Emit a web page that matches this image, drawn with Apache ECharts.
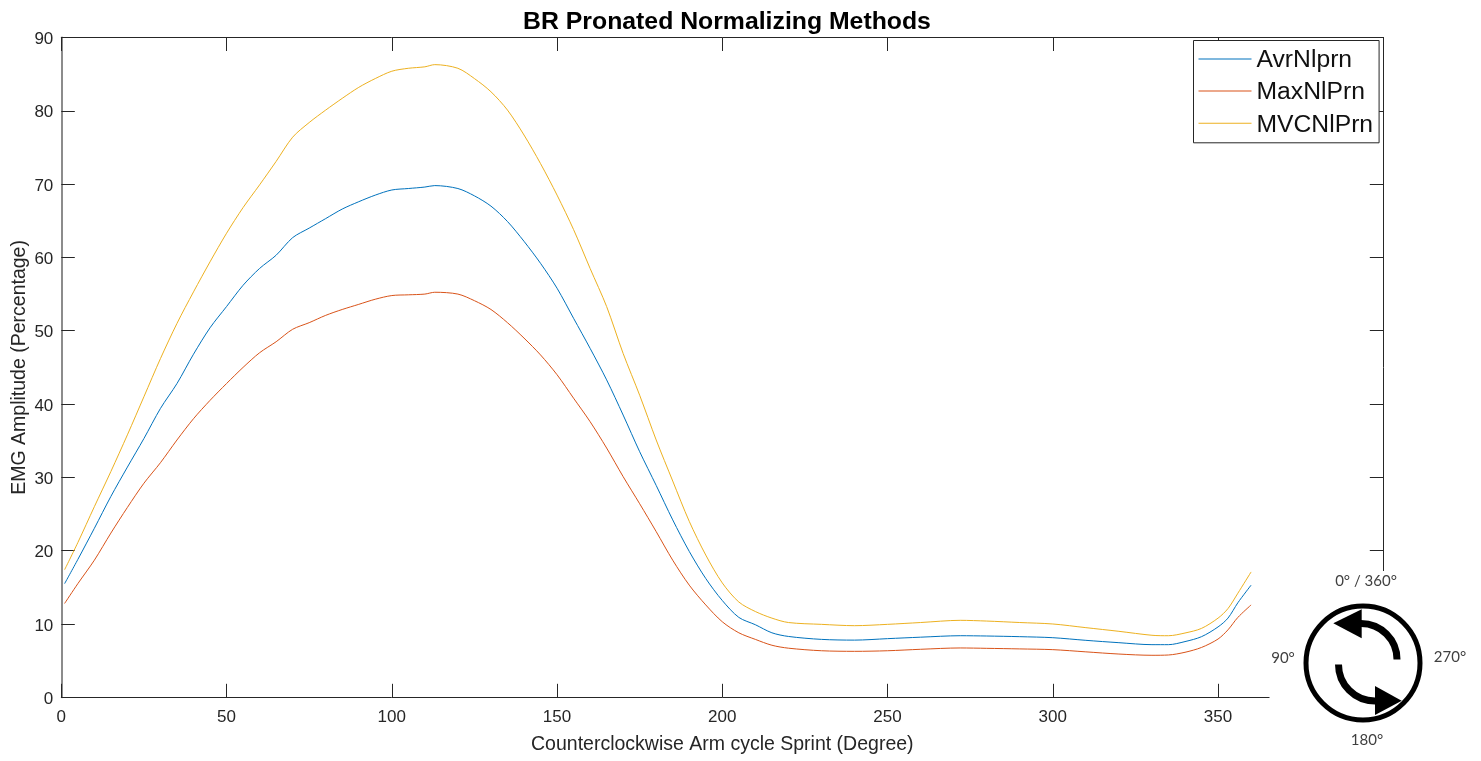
<!DOCTYPE html>
<html><head><meta charset="utf-8">
<style>html,body{margin:0;padding:0;background:#fff}#c{width:1481px;height:761px}</style>
<script src="https://cdn.jsdelivr.net/npm/echarts@6/dist/echarts.min.js"></script>
</head><body><div id="c"></div>
<script>
const titleText = 'BR Pronated Normalizing Methods';
const xName = 'Counterclockwise Arm cycle Sprint (Degree)';
const yName = 'EMG Amplitude (Percentage)';
const seriesNames = ['AvrNlprn','MaxNlPrn','MVCNlPrn'];
const seriesColors = ['#0072BD','#D95319','#EDB120'];
const degrees = [1,5,10,15,20,25,30,35,40,45,50,55,60,65,70,75,80,85,90,95,100,105,110,113,120,125,130,135,140,145,150,155,160,165,170,175,180,185,190,195,200,205,210,215,220,230,240,250,260,272,280,290,300,310,320,330,335,340,345,350,353,356,360];
const avrNlprn = [15.5,18.8,23.05,27.4,31.4,35.3,39.4,42.8,46.8,50.4,53.3,56.2,58.5,60.3,62.7,64.0,65.3,66.6,67.6,68.5,69.2,69.4,69.6,69.8,69.4,68.4,67.0,64.9,62.2,59.2,55.8,51.7,47.6,43.3,38.5,33.5,28.9,24.2,19.9,16.2,13.2,10.9,9.9,8.8,8.3,7.9,7.8,8.0,8.2,8.4,8.36,8.27,8.13,7.77,7.45,7.18,7.18,7.6,8.27,9.6,10.8,12.9,15.3];
const maxNlPrn = [12.8,15.5,18.7,22.4,25.9,29.2,32.0,35.1,38.0,40.5,42.8,45.0,47.0,48.5,50.2,51.1,52.1,52.9,53.6,54.3,54.8,54.9,55.0,55.25,55.0,54.1,52.9,51.1,49.0,46.7,44.0,40.8,37.6,34.0,30.1,26.4,22.6,18.7,15.3,12.6,10.3,8.8,7.9,7.1,6.7,6.35,6.27,6.35,6.55,6.73,6.68,6.6,6.5,6.2,5.9,5.73,5.77,6.14,6.8,7.95,9.2,10.9,12.6];
const mvcNlPrn = [17.4,21.1,26.0,30.8,35.8,41.0,46.2,51.0,55.3,59.4,63.3,66.8,69.9,73.1,76.4,78.4,80.1,81.7,83.2,84.4,85.4,85.8,86.0,86.3,85.8,84.4,82.6,80.1,76.7,72.8,68.5,63.8,58.5,53.3,46.9,41.2,35.1,29.5,24.0,19.4,15.6,13.0,11.7,10.8,10.2,9.95,9.77,9.95,10.2,10.5,10.4,10.2,10.0,9.5,9.0,8.46,8.4,8.77,9.4,10.8,12.1,14.2,17.1];
const xMax = 400, xStep = 50, yMax = 90, yStep = 10;

const valuesBySeries = [avrNlprn, maxNlPrn, mvcNlPrn];
const ink = '#262626';
const font = '"Liberation Sans", Arial, sans-serif';
const iconFont = 'Lato, "Open Sans", sans-serif';
const iconInk = '#404040';
const chart = echarts.init(document.getElementById('c'), null, {renderer:'canvas'});

function tickAxis(extra){
  return Object.assign({
    type:'value', min:0, axisLine:{show:true,onZero:false,lineStyle:{color:ink,width:1}},
    axisTick:{show:true,inside:true,length:13.5,lineStyle:{color:ink,width:1}},
    splitLine:{show:false}, axisLabel:{show:false}
  }, extra);
}
function iconText(text,x,y){
  return {type:'text',z:101,style:{text,x,y,fill:iconInk,font:'15px '+iconFont,textAlign:'center',textVerticalAlign:'middle'}};
}

chart.setOption({
  animation:false,
  backgroundColor:'#fff',
  title:{text:titleText,left:722,top:5,textAlign:'center',textStyle:{fontFamily:font,fontSize:24.8,fontWeight:'bold',color:'#000'}},
  grid:{left:61.3,right:97.7,top:37.5,bottom:63.7,containLabel:false,outerBoundsMode:'none'},
  legend:{
    show:true,orient:'vertical',left:1193.5,top:40.5,align:'left',
    backgroundColor:'#fff',borderColor:ink,borderWidth:1,borderRadius:0,
    padding:[7.4,6,5.5,5],itemWidth:53,itemHeight:14,itemGap:7.2,
    formatter:n=>`{t|${n}}`,
    textStyle:{rich:{t:{fontFamily:font,fontSize:24.7,color:'#111',padding:[3,0,0,0]}}},
    data:seriesNames.map(n=>({name:n,icon:'path://M0 0H53V1H0Z'}))
  },
  xAxis:[
    tickAxis({position:'bottom',max:xMax,interval:xStep,name:xName,nameLocation:'middle',nameGap:37,
      nameTextStyle:{fontFamily:font,fontSize:19.5,color:ink},
      axisLabel:{show:true,margin:12,fontFamily:font,fontSize:17,color:ink,formatter:v=>v>=xMax?'':String(v)}}),
    tickAxis({position:'top',max:xMax,interval:xStep})
  ],
  yAxis:[
    tickAxis({position:'left',max:yMax,interval:yStep,name:yName,nameLocation:'middle',nameGap:32,nameMoveOverlap:false,
      nameTextStyle:{fontFamily:font,fontSize:19.5,color:ink},
      axisLine:{show:true,lineStyle:{color:'#8c8c8c',width:2}},
      axisLabel:{show:true,margin:8,formatter:v=>`{t|${v}}`,
        rich:{t:{padding:[4,0,0,0],fontFamily:font,fontSize:17,color:ink}}}}),
    tickAxis({position:'right',max:yMax,interval:yStep})
  ],
  series:seriesNames.map((name,i)=>({
    name,type:'line',xAxisIndex:0,yAxisIndex:0,symbol:'none',smooth:0.3,
    lineStyle:{color:seriesColors[i],width:1},itemStyle:{color:seriesColors[i]},
    data:degrees.map((d,j)=>[d,valuesBySeries[i][j]])
  })),
  graphic:[
    {type:'rect',z:100,shape:{x:1269.5,y:571,width:212,height:190},style:{fill:'#fff'}},
    {type:'circle',z:101,shape:{cx:1363,cy:663,r:57},style:{fill:'none',stroke:'#000',lineWidth:5}},
    {type:'arc',z:101,shape:{cx:1361,cy:659.5,r:36,startAngle:-Math.PI/2,endAngle:0,clockwise:true},style:{fill:'none',stroke:'#000',lineWidth:7}},
    {type:'polygon',z:101,shape:{points:[[1333.3,623.3],[1361.7,609.3],[1361.7,638.3]]},style:{fill:'#000'}},
    {type:'arc',z:101,shape:{cx:1375,cy:664.5,r:36.5,startAngle:Math.PI/2,endAngle:Math.PI,clockwise:true},style:{fill:'none',stroke:'#000',lineWidth:7}},
    {type:'polygon',z:101,shape:{points:[[1401.7,700.7],[1375,686],[1375,715]]},style:{fill:'#000'}},
    iconText('0° / 360°',1366,581),
    iconText('90°',1283,658),
    iconText('270°',1450,657),
    iconText('180°',1367,740)
  ]
});
</script></body></html>
